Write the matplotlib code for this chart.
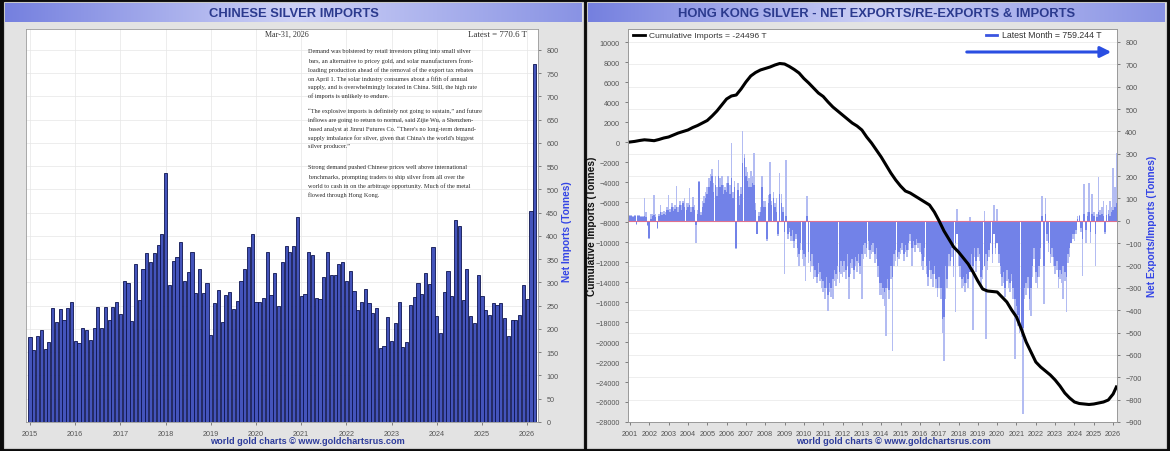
import matplotlib.pyplot as plt
from matplotlib.colors import LinearSegmentedColormap
from matplotlib.lines import Line2D
from matplotlib.patches import Rectangle
import numpy as np

W, H = 1170, 452

# ---- Chinese silver imports, monthly tonnes, Jan 2015 .. Mar 2026
cn_imports = [
    182, 155, 184, 197, 157, 173, 245, 216, 244, 220, 246, 259,  # 2015
    174, 169, 202, 197, 177, 203, 247, 203, 247, 220, 247, 259,  # 2016
    232, 303, 299, 218, 340, 263, 329, 364, 344, 364, 380, 405,  # 2017
    535, 295, 347, 355, 387, 304, 322, 365, 277, 328, 277, 299,  # 2018
    187, 256, 283, 214, 272, 279, 243, 260, 303, 329, 376, 405,  # 2019
    258, 258, 267, 365, 272, 321, 249, 344, 378, 365, 378, 441,  # 2020
    270, 276, 365, 360, 267, 265, 312, 365, 315, 315, 340, 344,  # 2021
    303, 324, 281, 241, 259, 285, 256, 234, 245, 159, 163, 226,  # 2022
    174, 213, 258, 161, 172, 251, 269, 298, 275, 321, 296, 377,  # 2023
    228, 191, 280, 325, 271, 435, 422, 262, 330, 227, 213, 316,  # 2024
    271, 241, 231, 256, 251, 256, 224, 184, 220, 220, 231, 294,  # 2025
    264, 453, 770.6,                                             # 2026
]
cn_years = list(range(2015, 2027))
cn_yticks = list(range(0, 801, 50))

# ---- Hong Kong net exports/imports, monthly tonnes, Jan 2001 .. Mar 2026
hk_mid = [
    20, 20, 18, 20, -15, 20, 22, 15, 18, 20, 15, -20,  # 2001
    -75, 10, 20, 25, 15, -30, 20, 40, 25, 30, 25, 50,  # 2002
    50, 40, 60, 45, 55, 60, 40, 70, 50, 80, 60, 50,  # 2003
    60, 70, 40, 60, 50, -20, 30, 175, 25, 60, 80, 100,  # 2004
    120, 150, 180, 200, 130, 160, 110, 200, 150, 160, 120, 140,  # 2005
    130, 170, 120, 190, 100, 150, -120, 140, 70, 120, 260, 280,  # 2006
    200, 180, 150, 150, 170, 160, 50, -60, 20, 40, 150, 60,  # 2007
    60, -80, 80, 120, 70, 100, 60, 40, -60, 120, 80, 40,  # 2008
    -50, 20, -60, -30, -70, -40, -90, -60, -120, -150, -100, -130,  # 2009
    -150, -160, 20, -140, -180, -150, -200, -220, -250, -190, -230, -260,  # 2010
    -270, -300, -250, -330, -280, -300, -260, -220, -240, -200, -230, -180,  # 2011
    -200, -180, -220, -150, -250, -190, -170, -220, -160, -180, -150, -200,  # 2012
    -150, -110, -100, -120, -90, -130, -110, -100, -150, -120, -200, -280,  # 2013
    -280, -300, -320, -300, -260, -310, -200, -250, -150, -130, -160, -140,  # 2014
    -120, -100, -150, -110, -130, -100, -60, -120, -90, -110, -80, -100,  # 2015
    -100, -150, -180, -120, -200, -250, -180, -220, -240, -200, -260, -300,  # 2016
    -250, -300, -440, -430, -200, -260, -150, -180, -120, -200, -100, -60,  # 2017
    -150, -200, -260, -250, -280, -240, -260, -230, -150, -200, -120, -180,  # 2018
    -120, -150, -250, -220, -200, -150, -180, -130, -100, -150, -60, -120,  # 2019
    -100, -150, -200, -250, -230, -300, -220, -260, -280, -240, -300, -350,  # 2020
    -380, -420, -450, -470, -480, -300, -280, -250, -350, -300, -200, -120,  # 2021
    -230, -250, -200, -120, 20, -200, 30, -60, -100, -150, -120, -160,  # 2022
    -200, -180, -250, -220, -240, -200, -230, -250, -150, -120, -100, -60,  # 2023
    -60, -40, 10, 20, -30, -80, 30, -40, 20, 40, -50, 30,  # 2024
    20, -60, 15, 40, 25, 30, 20, -50, 25, 30, 20, 40,  # 2025
    50, 60, 80,  # 2026
]
hk_light = [
    25, 25, 22, 25, -20, 25, 28, 20, 22, 100, 40, -25,  # 2001
    -80, 30, 30, 115, 30, -35, 30, 70, 40, 45, 40, 60,  # 2002
    115, 55, 80, 60, 70, 155, 60, 90, 70, 90, 100, 80,  # 2003
    80, 145, 60, 105, 70, -100, 50, 180, 40, 90, 110, 130,  # 2004
    150, 190, 210, 230, 170, 200, 150, 270, 190, 200, 160, 150,  # 2005
    170, 200, 160, 350, 130, 180, -125, 170, 110, 150, 400, 300,  # 2006
    240, 220, 190, 225, 200, 305, 80, -40, 40, 60, 200, 90,  # 2007
    90, -90, 115, 265, 90, 130, 80, 100, -70, 215, 120, 60,  # 2008
    -240, 270, -80, -50, -90, -90, -120, -80, -160, -200, -130, -170,  # 2009
    -200, -268, 110, -190, -230, -200, -260, -250, -280, -240, -270, -300,  # 2010
    -320, -350, -300, -405, -320, -340, -350, -270, -290, -260, -280, -240,  # 2011
    -250, -230, -260, -200, -350, -240, -210, -260, -200, -230, -190, -240,  # 2012
    -350, -170, -150, -160, -130, -170, -150, -140, -190, -170, -250, -330,  # 2013
    -330, -350, -380, -515, -300, -350, -260, -582, -200, -180, -200, -170,  # 2014
    -150, -130, -180, -140, -160, -130, -90, -200, -120, -140, -110, -120,  # 2015
    -140, -200, -220, -160, -240, -290, -220, -260, -298, -240, -300, -340,  # 2016
    -300, -350, -500, -626, -350, -300, -200, -200, -160, -250, -410, 52,  # 2017
    -200, -250, -300, -290, -320, -280, -300, 15, -200, -487, -160, -230,  # 2018
    -160, -180, -300, -260, 45, -530, -220, -160, -100, -190, 70, -150,  # 2019
    55, -190, -240, -290, -280, -340, -270, -300, -320, -270, -350, -619,  # 2020
    -430, -470, -500, -520, -865, -350, -330, -300, -400, -425, -250, -170,  # 2021
    -280, -300, -250, -170, 110, -373, 100, -90, -140, -190, -160, -200,  # 2022
    -240, -220, -300, -260, -280, -350, -270, -410, -190, -160, -100, -80,  # 2023
    -90, -60, 20, 25, -50, -246, 164, -100, 40, 170, -100, 120,  # 2024
    40, -200, 30, 198, 50, 60, 90, -60, 70, 50, 90, 60,  # 2025
    238, 150, 305,  # 2026
]
# cumulative imports, quarterly 2001Q1 .. 2026Q1, then the latest month
hk_cum_q = [
    0, 60, 150, 220, 180, 130, 250, 400, 500, 700, 900, 1050,
    1200, 1450, 1650, 1900, 2150, 2600, 3100, 3700, 4300, 4600, 4700, 5300,
    6000, 6600, 6950, 7200, 7350, 7500, 7700, 7850, 7800, 7550, 7250, 6900,
    6350, 5900, 5400, 4900, 4550, 4000, 3500, 3100, 2700, 2300, 1900, 1600,
    1200, 500, -100, -800, -1500, -2300, -3100, -3800, -4400, -4900, -5100, -5400,
    -5700, -6000, -6300, -7000, -7900, -8900, -9700, -10500,
    -11000, -11600, -12200, -13000, -13900, -14700, -14900, -14950,
    -15000, -15500, -16000, -16800, -17500, -18700, -20000, -21000,
    -22000, -22500, -22900, -23300, -23800, -24400, -25100, -25600,
    -26000, -26150, -26200, -26250, -26200, -26100, -26000, -25800,
    -25200,
]
hk_cum_last = -24496
hk_years = list(range(2001, 2027))
hk_left_ticks = list(range(-28000, 10001, 2000))
hk_right_ticks = list(range(-900, 801, 100))

SANS = 'Liberation Sans'
SERIF = 'Liberation Serif'
NAVY = '#2b3a8e'
BLUE_LBL = '#3344e6'


def box(x0, y0, x1, y1):
    # pixel box with top-left origin -> figure fraction rect
    return [x0 / W, 1 - y1 / H, (x1 - x0) / W, (y1 - y0) / H]


def fx(x):
    return x / W


def fy(y):
    return 1 - y / H


fig = plt.figure(figsize=(W / 100, H / 100), dpi=100, facecolor='#0b0b0b')

# panel backgrounds
for x0, x1 in [(4, 583), (587, 1166)]:
    fig.add_artist(Rectangle((fx(x0), fy(449)), (x1 - x0) / W, 446 / H,
                             transform=fig.transFigure, facecolor='#e3e3e3',
                             edgecolor='#c8c8c8', lw=0.8, zorder=-1))

# title banners
banner = LinearSegmentedColormap.from_list('banner', ['#7580df', '#cdd1f6', '#8993e4'])
grad = np.linspace(0, 1, 256).reshape(1, -1)
titles = [((5, 4, 582, 23), 'CHINESE SILVER IMPORTS'),
          ((588, 4, 1165, 23), 'HONG KONG SILVER - NET EXPORTS/RE-EXPORTS & IMPORTS')]
for rect, title in titles:
    axb = fig.add_axes(box(*rect))
    axb.imshow(grad, aspect='auto', cmap=banner, extent=[0, 1, 0, 1])
    axb.axis('off')
    axb.text(0.5, 0.47, title, ha='center', va='center', fontsize=9.4,
             fontweight='bold', color=NAVY, family=SANS)

# ---------------- left chart
ax1 = fig.add_axes(box(26, 30, 538, 423))
x_cn = 2015 + np.arange(len(cn_imports)) / 12
ax1.bar(x_cn, cn_imports, width=0.07, color='#4454bb', edgecolor='#0d1450',
        linewidth=0.6, zorder=2)
ax1.set_xlim(2014.91, 2026.24)
ax1.set_ylim(0, 845)
ax1.yaxis.tick_right()
ax1.set_yticks(cn_yticks)
ax1.set_xticks(cn_years)
ax1.grid(color='#e6e6e6', lw=0.5, zorder=0)
ax1.tick_params(labelsize=5.2, colors='#555555', length=2.5, width=0.5)
for lab in ax1.get_xticklabels() + ax1.get_yticklabels():
    lab.set_family(SANS)
for s in ax1.spines.values():
    s.set_color('#9a9a9a')
    s.set_linewidth(0.6)

fig.text(fx(287), fy(35), 'Mar-31, 2026', ha='center', va='center',
         fontsize=5.8, color='#333333', family=SERIF)
fig.text(fx(527), fy(35), 'Latest = 770.6 T', ha='right', va='center',
         fontsize=6.4, color='#333333', family=SERIF)

paragraphs = [
    (52, ["Demand was bolstered by retail investors piling into small silver",
          "bars, an alternative to pricey gold, and solar manufacturers front-",
          "loading production ahead of the removal of the export tax rebates",
          "on April 1. The solar industry consumes about a fifth of annual",
          "supply, and is overwhelmingly located in China. Still, the high rate",
          "of imports is unlikely to endure."]),
    (111, ["\u201cThe explosive imports is definitely not going to sustain,\u201d and future",
           "inflows are going to return to normal, said Zijie Wu, a Shenzhen-",
           "based analyst at Jinrui Futures Co. \u201cThere's no long-term demand-",
           "supply imbalance for silver, given that China's the world's biggest",
           "silver producer.\u201d"]),
    (168, ["Strong demand pushed Chinese prices well above international",
           "benchmarks, prompting traders to ship silver from all over the",
           "world to cash in on the arbitrage opportunity. Much of the metal",
           "flowed through Hong Kong."]),
]
for y0, lines in paragraphs:
    for k, line in enumerate(lines):
        fig.text(fx(308), fy(y0 + k * 8.9), line, ha='left', va='center',
                 fontsize=4.5, color='#2a2a2a', family=SERIF)

fig.text(fx(567), fy(232), 'Net Imports (Tonnes)', rotation=90, ha='center',
         va='center', fontsize=7.3, fontweight='bold', color=BLUE_LBL, family=SANS)
fig.text(fx(307), fy(442), 'world gold charts \u00a9 www.goldchartsrus.com',
         ha='center', va='center', fontsize=6.6, fontweight='bold',
         color='#2d3c9c', family=SANS)

# ---------------- right chart
ax2 = fig.add_axes(box(628, 30, 1117, 423))
ax3 = ax2.twinx()
ax2.set_zorder(3)
ax3.set_zorder(2)
ax2.patch.set_visible(False)
ax3.patch.set_visible(True)
ax3.patch.set_facecolor('white')

x_hk = 2001 + np.arange(len(hk_mid)) / 12
ax3.bar(x_hk, hk_light, width=0.08, color='#b3bcf2', linewidth=0, zorder=2)
ax3.bar(x_hk, hk_mid, width=0.08, color='#7282e8', linewidth=0, zorder=3)
ax3.axhline(0, color='#e0708e', lw=0.8, zorder=4)
ax3.set_ylim(-900, 858)
ax3.set_yticks(hk_right_ticks)
ax3.grid(color='#e8e8e8', lw=0.5, zorder=0)

x_cum = list(2001 + np.arange(len(hk_cum_q)) / 4) + [2026 + 2 / 12]
ax2.plot(x_cum, hk_cum_q + [hk_cum_last], color='black', lw=2.2,
         solid_joinstyle='round')
ax2.set_xlim(2000.9, 2026.2)
ax2.set_ylim(-28000, 11300)
ax2.set_yticks(hk_left_ticks)
ax2.set_xticks(hk_years)

for a in (ax2, ax3):
    a.tick_params(labelsize=5.2, colors='#555555', length=2.5, width=0.5)
    for lab in a.get_xticklabels() + a.get_yticklabels():
        lab.set_family(SANS)
    for s in a.spines.values():
        s.set_color('#9a9a9a')
        s.set_linewidth(0.6)

# legend entries and arrow (above the chart axes)
fig.add_artist(Line2D([fx(633), fx(645)], [fy(36), fy(36)], color='black',
                      lw=2, zorder=10))
fig.text(fx(649), fy(36), 'Cumulative Imports = -24496 T', ha='left',
         va='center', fontsize=6.1, color='#333333', family=SANS, zorder=10)
fig.add_artist(Line2D([fx(986), fx(997)], [fy(36), fy(36)], color='#3b55e0',
                      lw=2, zorder=10))
fig.text(fx(1002), fy(36), 'Latest Month = 759.244 T', ha='left',
         va='center', fontsize=6.3, color='#333333', family=SANS, zorder=10)
ax2.annotate('', xy=(fx(1114), fy(53)), xytext=(fx(964), fy(53)),
             xycoords='figure fraction', textcoords='figure fraction',
             arrowprops=dict(arrowstyle='-|>', color='#2a4ee2', lw=2.2,
                             mutation_scale=16))

fig.text(fx(592), fy(226), 'Cumulative Imports (Tonnes)', rotation=90,
         ha='center', va='center', fontsize=7.3, fontweight='bold',
         color='#111111', family=SANS)
fig.text(fx(1152), fy(226), 'Net Exports/Imports (Tonnes)', rotation=90,
         ha='center', va='center', fontsize=7.3, fontweight='bold',
         color=BLUE_LBL, family=SANS)
fig.text(fx(893), fy(442), 'world gold charts \u00a9 www.goldchartsrus.com',
         ha='center', va='center', fontsize=6.6, fontweight='bold',
         color='#2d3c9c', family=SANS)

fig.savefig('out.png', dpi=100, facecolor=fig.get_facecolor())
